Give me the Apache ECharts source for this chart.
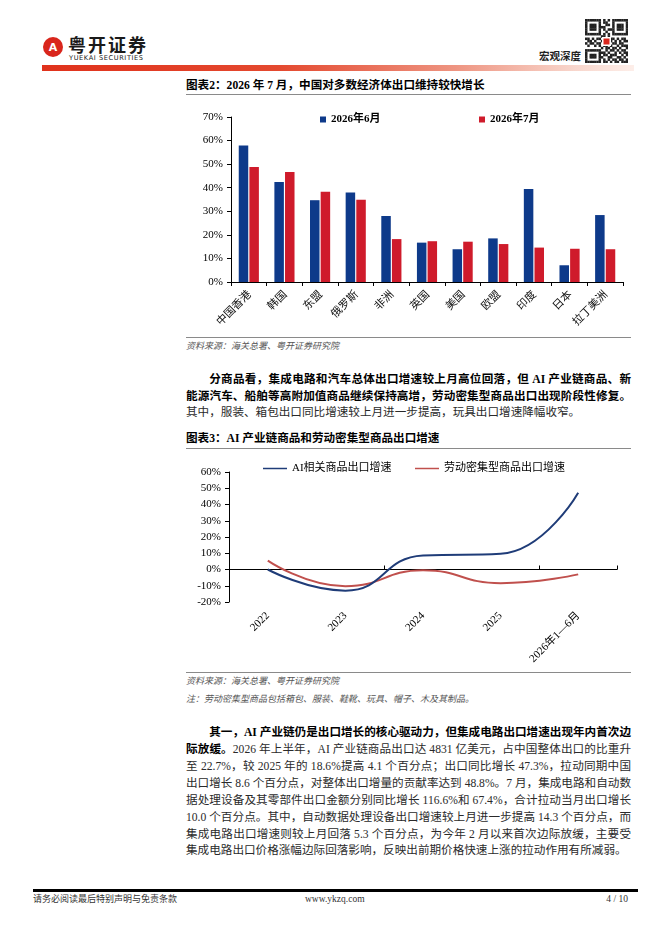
<!DOCTYPE html>
<html>
<head>
<meta charset="utf-8">
<script src="https://cdn.jsdelivr.net/npm/echarts@6/dist/echarts.min.js"></script>
<style>
body{margin:0;background:#fff;width:662px;height:936px;position:relative;overflow:hidden;
  font-family:"Liberation Serif","Noto Sans CJK SC",serif;color:#222;}
.abs{position:absolute;}
.ttl{left:186px;width:445px;font-size:11.6px;font-weight:bold;line-height:16px;color:#000;}
.rule{left:186px;width:445px;height:1px;background:#8a8a8a;}
.src{left:186px;font-size:9px;font-style:italic;color:#555;line-height:12px;}
.ln{left:186px;width:445px;font-size:11.6px;line-height:16px;text-align:justify;text-align-last:justify;white-space:nowrap;color:#2a2a2a;}
.ln.last{text-align-last:left;}
.ln.ind{text-indent:2em;}
b{color:#000;}
</style>
</head>
<body>

<!-- 页眉 -->
<div class="abs" style="left:43px;top:37px;width:20px;height:20px;border-radius:50%;background:#d9261c;"></div>
<div class="abs" style="left:47px;top:42px;width:12px;height:12px;color:#fff;font:bold 11px 'DejaVu Sans';line-height:12px;text-align:center;">A</div>
<div class="abs" style="left:68px;top:34px;font:bold 18px 'Noto Sans CJK SC';letter-spacing:2px;color:#1a1a1a;line-height:20px;">粤开证券</div>
<div class="abs" style="left:69px;top:54px;font:6.6px 'DejaVu Sans';letter-spacing:0.6px;color:#1a1a1a;line-height:8px;">YUEKAI SECURITIES</div>
<div class="abs" style="left:42px;top:65px;width:592px;height:6px;background:linear-gradient(to right,#e0321c 0%,#e4492f 40%,#ee9582 70%,#f8d6cc 90%,#fdeee9 100%);"></div>
<div class="abs" style="left:539px;top:49px;font:bold 10.5px 'Noto Sans CJK SC';color:#222;line-height:14px;">宏观深度</div>
<svg class="abs" id="qr" style="left:585px;top:19px;" width="43" height="44"></svg>

<!-- 图表2 -->
<div class="abs ttl" style="top:78px;">图表2：2026 年 7 月，中国对多数经济体出口维持较快增长</div>
<div class="abs rule" style="top:94px;"></div>
<div class="abs" id="chart1" style="left:170px;top:100px;width:470px;height:235px;"></div>
<div class="abs rule" style="top:337px;"></div>
<div class="abs src" style="top:340px;">资料来源：海关总署、粤开证券研究院</div>

<div class="abs ln ind" style="top:372px;"><b>分商品看，集成电路和汽车总体出口增速较上月高位回落，但 AI 产业链商品、新</b></div>
<div class="abs ln" style="top:389px;"><b>能源汽车、船舶等高附加值商品继续保持高增，劳动密集型商品出口出现阶段性修复。</b></div>
<div class="abs ln last" style="top:405px;">其中，服装、箱包出口同比增速较上月进一步提高，玩具出口增速降幅收窄。</div>

<!-- 图表3 -->
<div class="abs ttl" style="top:431px;">图表3：AI 产业链商品和劳动密集型商品出口增速</div>
<div class="abs rule" style="top:448px;"></div>
<div class="abs" id="chart2" style="left:170px;top:450px;width:470px;height:220px;"></div>
<div class="abs rule" style="top:672px;"></div>
<div class="abs src" style="top:675px;">资料来源：海关总署、粤开证券研究院</div>
<div class="abs src" style="top:693px;">注：劳动密集型商品包括箱包、服装、鞋靴、玩具、帽子、木及其制品。</div>

<div class="abs ln ind" style="top:725px;"><b>其一，AI 产业链仍是出口增长的核心驱动力，但集成电路出口增速出现年内首次边</b></div>
<div class="abs ln" style="top:742px;"><b>际放缓。</b>2026 年上半年，AI 产业链商品出口达 4831 亿美元，占中国整体出口的比重升</div>
<div class="abs ln" style="top:759px;">至 22.7%，较 2025 年的 18.6%提高 4.1 个百分点；出口同比增长 47.3%，拉动同期中国</div>
<div class="abs ln" style="top:776px;">出口增长 8.6 个百分点，对整体出口增量的贡献率达到 48.8%。7 月，集成电路和自动数</div>
<div class="abs ln" style="top:793px;">据处理设备及其零部件出口金额分别同比增长 116.6%和 67.4%，合计拉动当月出口增长</div>
<div class="abs ln" style="top:810px;">10.0 个百分点。其中，自动数据处理设备出口增速较上月进一步提高 14.3 个百分点，而</div>
<div class="abs ln" style="top:827px;">集成电路出口增速则较上月回落 5.3 个百分点，为今年 2 月以来首次边际放缓，主要受</div>
<div class="abs ln last" style="top:843px;">集成电路出口价格涨幅边际回落影响，反映出前期价格快速上涨的拉动作用有所减弱。</div>

<!-- 页脚 -->
<div class="abs" style="left:33px;top:889px;width:605px;height:2.5px;background:#000;"></div>
<div class="abs" style="left:33px;top:893px;font-size:9px;line-height:12px;color:#333;">请务必阅读最后特别声明与免责条款</div>
<div class="abs" style="left:305px;top:893px;font-size:9.5px;line-height:12px;color:#333;">www.ykzq.com</div>
<div class="abs" style="left:598px;top:893px;width:30px;text-align:right;font-size:9.5px;line-height:12px;color:#333;">4 / 10</div>

<script>
// 图表2：对主要经济体出口同比
var regions = ['中国香港', '韩国', '东盟', '俄罗斯', '非洲', '英国', '美国', '欧盟', '印度', '日本', '拉丁美洲'];
var june2026 = [57.9, 42.4, 34.7, 38.0, 28.0, 16.7, 13.9, 18.5, 39.5, 7.1, 28.4];
var july2026 = [48.8, 46.7, 38.3, 34.9, 18.2, 17.3, 17.1, 16.1, 14.6, 14.1, 13.9];

// 图表3：AI 产业链与劳动密集型商品出口增速
var years = ['2022', '2023', '2024', '2025', '2026年1—6月'];
var aiGrowth = [0.0, -13.0, 8.6, 9.7, 47.3];
var laborGrowth = [5.5, -10.3, -0.5, -8.4, -3.0];

// 二维码装饰
var qrRows = [
    '1111111010101111111',
    '1000001011001000001',
    '1011101001101011101',
    '1011101110001011101',
    '1011101010111011101',
    '1000001001001000001',
    '1111111010101111111',
    '0000000110100000000',
    '1101011001011010110',
    '0110100111010101011',
    '1011011000001101100',
    '0100101011010010111',
    '0000000101101101001',
    '1111111001011010110',
    '1000001110100101011',
    '1011101011011100101',
    '1011101100110011010',
    '1000001010101101101',
    '1111111011010110111'
];

(function () {
    var svg = document.getElementById('qr'), s = 43 / 19, html = '';
    qrRows.forEach(function (row, r) {
        for (var c = 0; c < row.length; c++) {
            if (row[c] === '1') html += '<rect x="' + (c * s) + '" y="' + (r * s * 44 / 43) + '" width="' + (s + 0.2) + '" height="' + (s + 0.3) + '" fill="#222"/>';
        }
    });
    html += '<rect x="17" y="18" width="9" height="9" fill="#fff"/><rect x="18.5" y="19.5" width="6" height="6" fill="#d9261c"/>';
    svg.innerHTML = html;
})();

var serif = '"Liberation Serif","Noto Sans CJK SC",serif';
var black = '#000';

//图表2
var chart1 = echarts.init(document.getElementById('chart1'));
chart1.setOption({
    animation: false,
    textStyle: {fontFamily: serif},
    legend: [
        {data: ['2026年6月'], left: 145, top: 9, icon: 'rect', itemWidth: 6, itemHeight: 6,
            textStyle: {fontSize: 11, fontWeight: 'bold', color: black, fontFamily: serif}},
        {data: ['2026年7月'], left: 304, top: 9, icon: 'rect', itemWidth: 6, itemHeight: 6,
            textStyle: {fontSize: 11, fontWeight: 'bold', color: black, fontFamily: serif}}
    ],
    grid: {left: 61, right: 17, top: 17, bottom: 53},
    xAxis: {
        type: 'category',
        data: regions,
        axisLine: {lineStyle: {color: black, width: 1}},
        axisTick: {show: true, length: 4, lineStyle: {color: black}},
        axisLabel: {rotate: 45, interval: 0, fontSize: 11, color: '#111', margin: 10, fontFamily: '"Noto Sans CJK SC"'}
    },
    yAxis: {
        type: 'value',
        min: 0,
        max: 70,
        interval: 10,
        axisLine: {show: true, lineStyle: {color: black}},
        axisTick: {show: true, length: 4, lineStyle: {color: black}},
        splitLine: {show: false},
        axisLabel: {formatter: '{value}%', fontSize: 11, color: black, margin: 8, fontFamily: serif}
    },
    series: [
        {name: '2026年6月', type: 'bar', data: june2026, barWidth: 9.5, barGap: '12%', itemStyle: {color: '#0e3a8a'}},
        {name: '2026年7月', type: 'bar', data: july2026, barWidth: 9.5, itemStyle: {color: '#cf1b2b'}}
    ]
});

//图表3
var chart2 = echarts.init(document.getElementById('chart2'));
chart2.setOption({
    animation: false,
    textStyle: {fontFamily: serif},
    legend: [
        {data: ['AI相关商品出口增速'], left: 88, top: 8, icon: 'rect', itemWidth: 24, itemHeight: 1.5,
            textStyle: {fontSize: 11, color: black, fontFamily: serif}},
        {data: ['劳动密集型商品出口增速'], left: 240, top: 8, icon: 'rect', itemWidth: 24, itemHeight: 1.5,
            textStyle: {fontSize: 11, color: black, fontFamily: serif}}
    ],
    grid: {left: 59, right: 23, top: 22, bottom: 68},
    xAxis: [
        {
            type: 'category',
            data: years,
            position: 'bottom',
            axisLine: {show: false, onZero: false},
            axisTick: {show: false},
            axisLabel: {rotate: 45, interval: 0, fontSize: 11, color: black, margin: 12, fontFamily: serif}
        },
        {
            type: 'category',
            data: years,
            position: 'top',
            axisLine: {show: true, onZero: true, lineStyle: {color: black}},
            axisTick: {show: true, length: 4, lineStyle: {color: black}},
            axisLabel: {show: false}
        }
    ],
    yAxis: {
        type: 'value',
        min: -20,
        max: 60,
        interval: 10,
        axisLine: {show: true, lineStyle: {color: black}},
        axisTick: {show: true, length: 4, lineStyle: {color: black}},
        splitLine: {show: false},
        axisLabel: {formatter: '{value}%', fontSize: 11, color: black, margin: 8, fontFamily: serif}
    },
    series: [
        {name: '劳动密集型商品出口增速', type: 'line', xAxisIndex: 0, smooth: true, symbol: 'none', data: laborGrowth,
            lineStyle: {color: '#c0504d', width: 2}, itemStyle: {color: '#c0504d'}},
        {name: 'AI相关商品出口增速', type: 'line', xAxisIndex: 0, smooth: true, symbol: 'none', data: aiGrowth,
            lineStyle: {color: '#1f3c78', width: 2}, itemStyle: {color: '#1f3c78'}}
    ]
});
</script>
</body>
</html>
